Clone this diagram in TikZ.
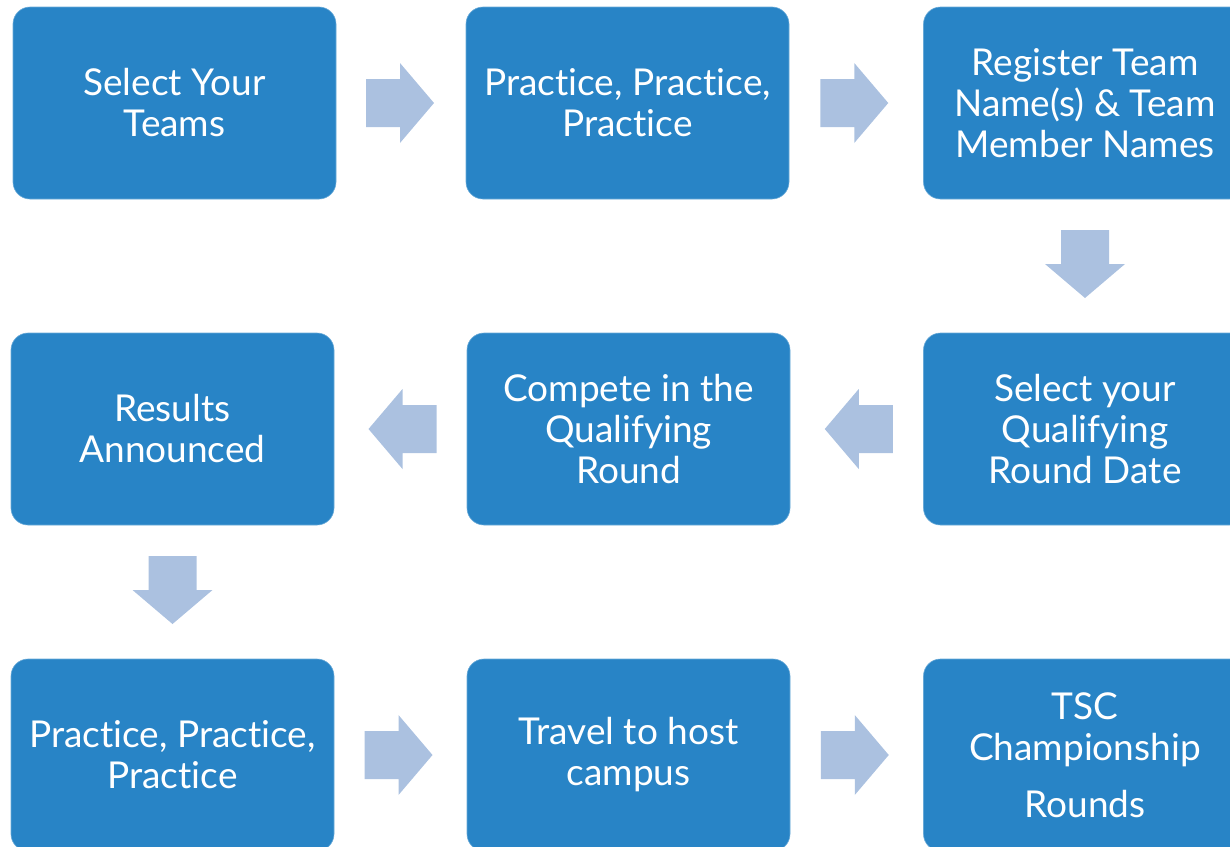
\documentclass[tikz,border=0pt]{standalone}
\usepackage{fontspec}
\setmainfont{Lato}[Ligatures={NoCommon}]
\usetikzlibrary{calc}
\definecolor{boxblue}{RGB}{40,132,198}
\definecolor{arrowblue}{RGB}{171,193,224}
\tikzset{
  stepbox/.style={rectangle, rounded corners=17pt, fill=boxblue, draw=boxblue!70!white, line width=0.6pt,
    minimum width=323pt, minimum height=192pt, inner sep=0pt, text=white, align=center,
    font=\fontsize{37}{41}\selectfont},
  blockarrow/.pic={\fill[arrowblue] (-34,-24) -- (0,-24) -- (0,-40) -- (34,0) -- (0,40) -- (0,24) -- (-34,24) -- cycle;}
}
\begin{document}
\begin{tikzpicture}[x=1pt,y=-1pt]
\useasboundingbox (0,0) rectangle (1230,846);
\clip (0,0) rectangle (1230,846);
\node[stepbox] (b1) at (174.5,103) {Select Your\\Teams};
\node[stepbox] (b2) at (627.5,103) {Practice, Practice,\\Practice};
\node[stepbox] (b3) at (1085,103) {Register Team\\Name(s) \& Team\\Member Names};
\node[stepbox] (b4) at (172.5,429) {Results\\Announced};
\node[stepbox] (b5) at (628.5,429) {Compete in the\\Qualifying\\Round};
\node[stepbox] (b6) at (1085,429) {Select your\\Qualifying\\Round Date};
\node[stepbox] (b7) at (172.5,755) {Practice, Practice,\\Practice};
\node[stepbox] (b8) at (628.5,755) {Travel to host\\campus};
\node[stepbox] (b9) at (1085,755) {TSC\\Championship\\[16pt]Rounds};
% connectors
\coordinate (a12) at ($(b1.east)!0.5!(b2.west)+(-1,0)$);
\coordinate (a23) at ($(b2.east)!0.5!(b3.west)+(-2,0)$);
\coordinate (a36) at ($(b3.south)!0.5!(b6.north)+(0,-2)$);
\coordinate (a65) at ($(b6.west)!0.5!(b5.east)+(2,0)$);
\coordinate (a54) at ($(b5.west)!0.5!(b4.east)+(2,0)$);
\coordinate (a47) at ($(b4.south)!0.5!(b7.north)+(0,-2)$);
\coordinate (a78) at ($(b7.east)!0.5!(b8.west)+(-2,0)$);
\coordinate (a89) at ($(b8.east)!0.5!(b9.west)+(-2,0)$);
\pic at (a12) {blockarrow};
\pic at (a23) {blockarrow};
\pic[rotate=-90] at (a36) {blockarrow};
\pic[rotate=180] at (a65) {blockarrow};
\pic[rotate=180] at (a54) {blockarrow};
\pic[rotate=-90] at (a47) {blockarrow};
\pic at (a78) {blockarrow};
\pic at (a89) {blockarrow};
\end{tikzpicture}
\end{document}
